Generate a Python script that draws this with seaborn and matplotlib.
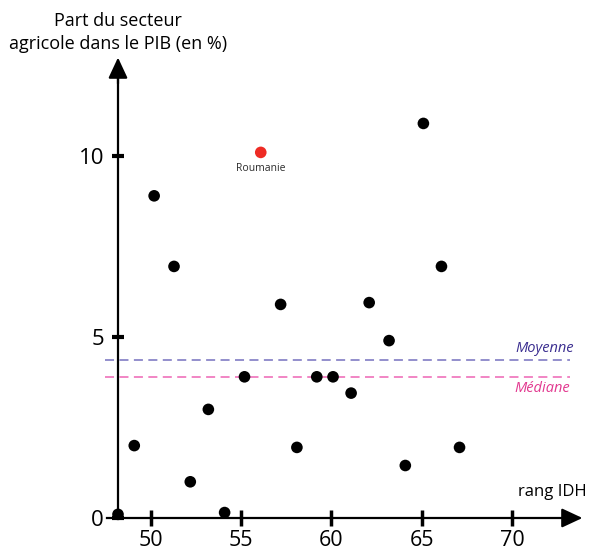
import numpy as np
import matplotlib
matplotlib.use('Agg')
import matplotlib.pyplot as plt
import seaborn as sns

# rang IDH et part de l'agriculture dans le PIB (%)
idh = [48.2, 49.1, 50.2, 51.3, 52.2, 53.2, 54.1, 55.2, 57.2, 58.1,
       59.2, 60.1, 61.1, 62.1, 63.2, 64.1, 65.1, 66.1, 67.1]
agri = [0.1, 2.0, 8.9, 6.95, 1.0, 3.0, 0.15, 3.9, 5.9, 1.95,
        3.9, 3.9, 3.45, 5.95, 4.9, 1.45, 10.9, 6.95, 1.95]

# point mis en avant
roumanie_idh = 56.1
roumanie_agri = 10.1

x_ticks = [50, 55, 60, 65, 70]
y_ticks = [0, 5, 10]

all_agri = agri + [roumanie_agri]
moyenne = np.mean(all_agri)
mediane = np.median(all_agri)

sns.set_style('white')
plt.rcParams['font.family'] = ['Open Sans', 'DejaVu Sans']
plt.rcParams['text.color'] = 'black'
plt.rcParams['xtick.color'] = 'black'
plt.rcParams['ytick.color'] = 'black'

fig = plt.figure(figsize=(5.9, 5.51), dpi=100)
ax = fig.add_axes([0, 0, 1, 1])
ax.set_xlim(41.67, 74.32)
ax.set_ylim(-0.912, 14.31)

# reference lines
ax.plot([47.5, 73.2], [moyenne, moyenne], ls=(0, (5, 3)), lw=1.3, color='#8a86c8', zorder=1)
ax.plot([47.5, 73.2], [mediane, mediane], ls=(0, (5, 3)), lw=1.3, color='#f07cbf', zorder=1)
ax.text(73.45, moyenne + 0.12, 'Moyenne', ha='right', va='bottom', style='italic',
        fontsize=10.5, color='#3b2e90')
ax.text(73.2, mediane - 0.12, 'Médiane', ha='right', va='top', style='italic',
        fontsize=10.5, color='#e2388f')

# points
sns.scatterplot(x=idh, y=agri, color='black', s=70, edgecolor='none', ax=ax, zorder=3)
sns.scatterplot(x=[roumanie_idh], y=[roumanie_agri], color='#ee2b24', s=70,
                edgecolor='none', ax=ax, zorder=3)
ax.text(roumanie_idh, roumanie_agri - 0.3, 'Roumanie', ha='center', va='top',
        fontsize=7.5, color='#2b2b2b')

# axes with arrows
x0 = 48.2
for side in ['top', 'right']:
    ax.spines[side].set_visible(False)
ax.spines['left'].set_position(('data', x0))
ax.spines['bottom'].set_position(('data', 0))
ax.spines['left'].set_bounds(0, 12.3)
ax.spines['bottom'].set_bounds(47.6, 73.3)
for side in ['left', 'bottom']:
    ax.spines[side].set_linewidth(1.6)
    ax.spines[side].set_color('black')
arrow = dict(arrowstyle='-|>,head_length=0.9,head_width=0.42', color='black',
             lw=1.6, mutation_scale=14, shrinkA=0, shrinkB=0)
ax.annotate('', xy=(x0, 12.72), xytext=(x0, 12.0), arrowprops=arrow)
ax.annotate('', xy=(73.9, 0), xytext=(73.0, 0), arrowprops=arrow)

ax.set_xticks(x_ticks)
ax.set_yticks(y_ticks)
ax.tick_params(axis='y', direction='inout', length=9, width=3, pad=5.5,
               labelsize=16, left=True, colors='black')
ax.tick_params(axis='x', direction='inout', length=12, width=2.5, pad=2.5,
               labelsize=15.5, bottom=True, colors='black')

ax.text(x0, 13.41, 'Part du secteur\nagricole dans le PIB (en %)', ha='center',
        va='center', fontsize=13, linespacing=1.35)
ax.text(72.25, 0.72, 'rang IDH', ha='center', va='center', fontsize=12)

fig.savefig('out.png', dpi=100)
